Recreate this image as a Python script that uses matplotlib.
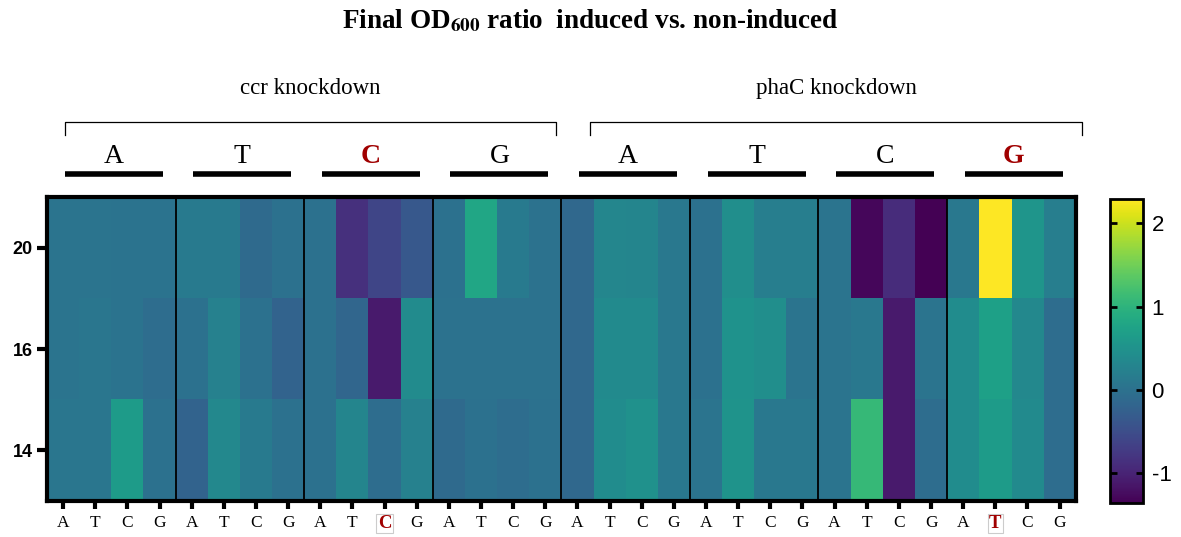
import matplotlib

matplotlib.use("Agg")
import matplotlib.pyplot as plt
import matplotlib.transforms as mtransforms
import numpy as np

# OD600 ratio (induced / non-induced), log-scale values; columns run
# ccr A..G then phaC A..G, each target base split into A/T/C/G sub-positions
rows = ["20", "16", "14"]
row_20 = [0.05, 0.05, 0.03, 0.03, 0.15, 0.15, -0.10, 0.00,
          0.00, -0.85, -0.60, -0.35, 0.00, 0.80, 0.15, 0.02,
          -0.12, 0.32, 0.30, 0.10, 0.00, 0.45, 0.20, 0.20,
          0.05, -1.30, -0.90, -1.36, 0.10, 2.29, 0.55, 0.20]
row_16 = [0.05, 0.08, 0.03, -0.05, 0.00, 0.25, 0.00, -0.20,
          0.00, -0.15, -1.10, 0.40, 0.02, 0.02, 0.02, 0.02,
          -0.12, 0.38, 0.38, 0.10, 0.00, 0.50, 0.45, 0.05,
          0.05, 0.10, -1.10, 0.05, 0.42, 0.72, 0.35, -0.05]
row_14 = [0.08, 0.08, 0.65, 0.00, -0.20, 0.35, 0.15, 0.00,
          0.00, 0.30, -0.05, 0.25, -0.10, 0.00, -0.05, 0.00,
          -0.12, 0.42, 0.48, 0.10, 0.05, 0.52, 0.10, 0.10,
          0.05, 1.08, -1.10, -0.05, 0.42, 0.65, 0.38, -0.05]

bases = ["A", "T", "C", "G"]
knockdowns = ["ccr knockdown", "phaC knockdown"]
highlight_groups = [2, 7]      # target base drawn in red
highlight_cols = [10, 29]      # sub-position tick drawn in red with box
cbar_ticks = [-1, 0, 1, 2]
VMIN, VMAX = -1.36, 2.29

RED = "#a00000"
SERIF = "Liberation Serif"
plt.rcParams["axes.unicode_minus"] = False

data = np.array([row_20, row_16, row_14])
ncol = data.shape[1]

fig = plt.figure(figsize=(11.81, 5.37), dpi=100)
ax = fig.add_axes([0.0398, 0.067, 0.871, 0.566])
cax = fig.add_axes([0.940, 0.063, 0.028, 0.566])

im = ax.imshow(data, cmap="viridis", vmin=VMIN, vmax=VMAX, aspect="auto",
               interpolation="nearest")

# group separators
for g in range(1, ncol // 4):
    ax.axvline(4 * g - 0.5, color="black", lw=1.3)

for sp in ax.spines.values():
    sp.set_linewidth(3)

ax.set_yticks(range(len(rows)))
ax.set_yticklabels(rows, fontsize=13, fontweight="bold", family="Liberation Sans")
ax.set_xticks(range(ncol))
ax.set_xticklabels(bases * (ncol // 4), fontsize=12.5, family=SERIF)
ax.tick_params(axis="both", length=7, width=3, direction="out")
ax.tick_params(axis="x", length=6, pad=4)

for i, lab in enumerate(ax.get_xticklabels()):
    if i in highlight_cols:
        lab.set_color(RED)
        lab.set_fontweight("bold")
        lab.set_fontsize(13.5)
        lab.set_bbox(dict(facecolor="white", edgecolor="#cccccc", lw=0.8, pad=1.0))

# header annotations: x in data units, y in figure fraction
trans = mtransforms.blended_transform_factory(ax.transData, fig.transFigure)

for k, name in enumerate(knockdowns):
    x0 = 16 * k + (0.06 if k == 0 else 0.4)
    x1 = 16 * k + (15.34 if k == 0 else 15.7)
    ax.plot([x0, x0, x1, x1], [0.749, 0.773, 0.773, 0.749], color="black",
            lw=0.9, transform=trans, clip_on=False)
    ax.text((x0 + x1) / 2, 0.836, name, ha="center", va="center", fontsize=16.5,
            family=SERIF, transform=trans)

for g in range(ncol // 4):
    x0, x1 = 4 * g + 0.05, 4 * g + 3.1
    ax.plot([x0, x1], [0.676, 0.676], color="black", lw=4, transform=trans,
            clip_on=False, solid_capstyle="butt")
    red = g in highlight_groups
    ax.text((x0 + x1) / 2, 0.708, bases[g % 4], ha="center", va="center",
            fontsize=20, family=SERIF, transform=trans,
            color=RED if red else "black",
            fontweight="bold" if red else "normal")

ax.set_xlim(-0.5, ncol - 0.5)
ax.set_ylim(len(rows) - 0.5, -0.5)

fig.text(0.4996, 0.961, r"Final OD$_{\mathbf{600}}$ ratio  induced vs. non-induced",
         ha="center", va="center", fontsize=19.5, fontweight="bold", family=SERIF,
         math_fontfamily="stix")

cb = fig.colorbar(im, cax=cax, ticks=cbar_ticks)
cb.outline.set_linewidth(2)
cax.tick_params(length=5, width=2, direction="in", labelsize=16, pad=6,
                left=True, right=True)
for lab in cax.get_yticklabels():
    lab.set_family("Liberation Sans")

fig.savefig("out.png", dpi=100, facecolor="white")
